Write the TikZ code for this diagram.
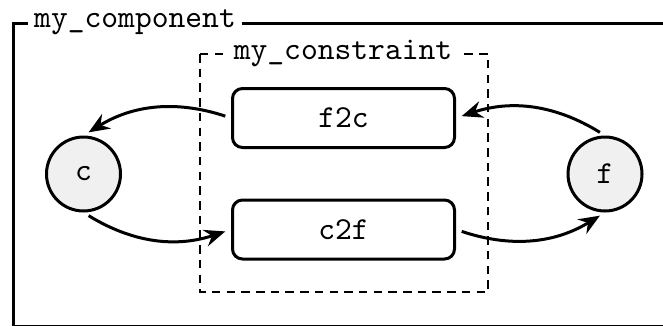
\documentclass[tikz,border=0pt]{standalone}
\usepackage{fontspec}
\newfontfamily\labelfont{lmmono10-regular.otf}
\usetikzlibrary{arrows.meta}
\begin{document}
\begin{tikzpicture}[x=1pt,y=1pt,
  every node/.style={font=\labelfont\fontsize{32}{38}\selectfont},
  frameline/.style={line width=3pt},
  grouplabel/.style={fill=white, inner xsep=6pt, inner ysep=0pt},
  state/.style={circle, draw, line width=3pt, fill=black!6,
    minimum size=74pt, inner sep=0pt},
  fn/.style={draw, rounded corners=10pt, line width=3pt,
    minimum width=222pt, minimum height=59pt, inner sep=0pt},
  link/.style={line width=3pt,
    -{Stealth[length=21pt,width=17pt,inset=7pt]},
    shorten <=6pt, shorten >=6pt}]
\useasboundingbox (0,0) rectangle (663,-325);

% outer component frame
\draw[frameline] (13,-23) rectangle (690,-326.95);
\node[grouplabel, anchor=base west] (comp) at (28,-27) {my\_component};

% constraint group
\draw[line width=2.5pt, dash pattern=on 8.5pt off 6.2pt] (200,-54) rectangle (488,-292);
\node[grouplabel, anchor=base] (cons) at (343,-59) {my\_constraint};

% variables
\node[state] (c) at (83.5,-174) {c};
\node[state] (f) at (605,-174) {f};

% conversion functions
\node[fn] (f2c) at (343.5,-118) {f2c};
\node[fn] (c2f) at (343.5,-229.5) {c2f};

% data flow
\draw[link] (f2c.west) to[bend right=25] (c.north);
\draw[link] (f.north) to[bend right=25] (f2c.east);
\draw[link] (c.south) to[bend right=25] (c2f.west);
\draw[link] (c2f.east) to[bend right=25] (f.south);
\end{tikzpicture}
\end{document}
